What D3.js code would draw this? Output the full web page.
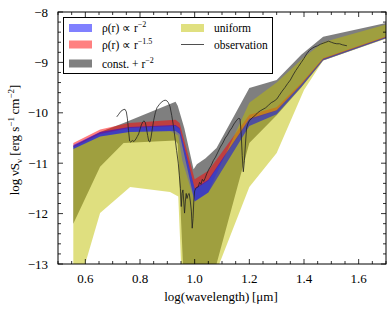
<!DOCTYPE html>
<html>
<head>
<meta charset="utf-8">
<script src="https://cdnjs.cloudflare.com/ajax/libs/d3/7.8.5/d3.min.js"></script>
<style>
  body { margin: 0; background: #fff; }
  svg text { font-family: "Liberation Serif", "Times New Roman", Times, serif; }
</style>
</head>
<body>
<svg id="chart" width="391" height="310"></svg>
<script>
var width = 391,
    height = 310;

var margin = {top: 12, right: 5, bottom: 46, left: 58};

// model bands: x, lower and upper bound of log nuS_nu
var constX  = [0.556, 0.654, 0.74, 0.93, 0.938, 0.962, 0.996, 1.008, 1.04, 1.08, 1.2, 1.3, 1.39, 1.47, 1.7];
var constHi = [-10.66, -10.38, -10.2, -9.78, -9.86, -10.3, -11.12, -11.02, -10.9, -10.7, -9.51, -9.35, -8.85, -8.49, -8.22];
var constLo = [-12.2, -11.07, -10.6, -10.55, -10.62, -13.6, -13.6, -13.6, -13.6, -13.0, -10.6, -10.05, -9.5, -8.96, -8.52];

var unifX  = [0.556, 0.654, 0.764, 0.91, 0.94, 0.955, 1.0, 1.05, 1.06, 1.09, 1.2, 1.3, 1.4, 1.47, 1.7];
var unifHi = [-10.72, -10.47, -10.38, -10.36, -10.45, -10.95, -11.76, -11.58, -11.45, -11.1, -9.8, -9.4, -8.9, -8.6, -8.25];
var unifLo = [-13.8, -11.99, -11.47, -11.57, -11.66, -13.6, -13.6, -13.6, -13.6, -13.0, -11.47, -10.8, -9.55, -8.96, -8.53];

var powX   = [0.556, 0.654, 0.76, 0.93, 0.945, 1.0, 1.05, 1.2, 1.3, 1.39, 1.47, 1.7];
var r15Hi  = [-10.60, -10.33, -10.20, -10.14, -10.20, -11.32, -11.15, -10.04, -9.89, -9.41, -8.915, -8.48];
var r15Lo  = [-10.68, -10.42, -10.30, -10.26, -10.32, -11.52, -11.35, -10.15, -9.96, -9.45, -8.94, -8.505];
var r2Hi   = [-10.64, -10.38, -10.28, -10.24, -10.30, -11.50, -11.33, -10.12, -9.95, -9.44, -8.93, -8.495];
var r2Lo   = [-10.72, -10.47, -10.38, -10.36, -10.42, -11.76, -11.58, -10.26, -10.03, -9.49, -8.955, -8.52];

// observed spectrum
var obsX = [0.715, 0.722, 0.73, 0.738, 0.745, 0.75, 0.754, 0.758, 0.762, 0.766, 0.772, 0.778, 0.785, 0.79, 0.795,
            0.8, 0.805, 0.81, 0.815, 0.82, 0.824, 0.828, 0.832, 0.836, 0.84, 0.845, 0.85, 0.856, 0.862, 0.87,
            0.878, 0.886, 0.892, 0.898, 0.904, 0.91, 0.916, 0.922, 0.928, 0.934, 0.94, 0.944, 0.948, 0.951, 0.954,
            0.957, 0.96, 0.963, 0.966, 0.969, 0.972, 0.976, 0.98, 0.984, 0.988, 0.991, 0.994, 0.997, 1.0, 1.004,
            1.008, 1.013, 1.018, 1.023, 1.028, 1.033, 1.038, 1.045, 1.052, 1.06, 1.068, 1.076, 1.085, 1.094, 1.103,
            1.112, 1.12, 1.128, 1.136, 1.144, 1.152, 1.16, 1.166, 1.17, 1.174, 1.178, 1.182, 1.186, 1.19, 1.196,
            1.2, 1.21, 1.22, 1.23, 1.24, 1.25, 1.26, 1.27, 1.28, 1.29, 1.3, 1.31, 1.32, 1.33, 1.34,
            1.35, 1.36, 1.37, 1.38, 1.39, 1.4, 1.41, 1.42, 1.43, 1.44, 1.45, 1.46, 1.47, 1.48, 1.49,
            1.5, 1.51, 1.52, 1.53, 1.54, 1.557];
var obsY = [-10.08, -10.03, -9.97, -9.94, -9.93, -9.98, -10.12, -10.35, -10.56, -10.58, -10.55, -10.57, -10.52, -10.47, -10.42,
            -10.33, -10.24, -10.18, -10.16, -10.2, -10.32, -10.45, -10.56, -10.58, -10.5, -10.32, -10.15, -10.0, -9.9, -9.84,
            -9.79, -9.76, -9.75, -9.76, -9.8, -9.88, -10.05, -10.25, -10.5, -10.75, -11.0, -11.25, -11.5, -11.86, -11.6,
            -11.53, -11.75, -11.99, -11.75, -11.6, -11.7, -11.62, -11.6, -11.75, -11.95, -12.29, -12.1, -11.73, -11.55, -11.5,
            -11.48, -11.47, -11.38, -11.42, -11.32, -11.36, -11.3, -11.2, -11.12, -11.05, -10.95, -10.88, -10.78, -10.68, -10.6,
            -10.5, -10.44, -10.36, -10.3, -10.22, -10.16, -10.11, -10.12, -10.4, -10.85, -11.17, -10.95, -10.6, -10.3, -10.2,
            -10.16, -10.1, -10.06, -10.0, -9.96, -9.93, -9.9, -9.85, -9.8, -9.77, -9.73, -9.65, -9.57, -9.5, -9.42,
            -9.35, -9.25, -9.16, -9.08, -9.0, -8.92, -8.83, -8.76, -8.72, -8.69, -8.67, -8.64, -8.62, -8.6, -8.58,
            -8.6, -8.62, -8.63, -8.63, -8.65, -8.67];

var xTicks = [0.6, 0.8, 1.0, 1.2, 1.4, 1.6];
var yTicks = [-8, -9, -10, -11, -12, -13];

var svg = d3.select("#chart");

var x = d3.scaleLinear()
    .domain([0.5, 1.7])
    .range([margin.left, width - margin.right]);

var y = d3.scaleLinear()
    .domain([-13, -8])
    .range([height - margin.bottom, margin.top]);

svg.append("defs").append("clipPath")
    .attr("id", "plotclip")
  .append("rect")
    .attr("x", x(0.5))
    .attr("y", y(-8))
    .attr("width", x(1.7) - x(0.5))
    .attr("height", y(-13) - y(-8));

var plot = svg.append("g").attr("clip-path", "url(#plotclip)");

function band(xs, lo, hi) {
  var pts = xs.map(function(d, i) { return [d, lo[i], hi[i]]; });
  return d3.area()
    .x(function(d) { return x(d[0]); })
    .y0(function(d) { return y(d[1]); })
    .y1(function(d) { return y(d[2]); })(pts);
}

// drawing order: const + r^-2, r^-1.5, uniform, r^-2
plot.append("path").attr("d", band(constX, constLo, constHi)).attr("fill", "rgba(0,0,0,0.5)");
plot.append("path").attr("d", band(powX, r15Lo, r15Hi)).attr("fill", "rgba(255,0,0,0.5)");
plot.append("path").attr("d", band(unifX, unifLo, unifHi)).attr("fill", "rgba(192,192,0,0.5)");
plot.append("path").attr("d", band(powX, r2Lo, r2Hi)).attr("fill", "rgba(0,0,255,0.5)");

var obsLine = d3.line()
    .x(function(d) { return x(d[0]); })
    .y(function(d) { return y(d[1]); });

plot.append("path")
    .attr("d", obsLine(obsX.map(function(d, i) { return [d, obsY[i]]; })))
    .attr("fill", "none")
    .attr("stroke", "#222")
    .attr("stroke-width", 0.8);

// frame and inward ticks on all sides
var x0 = x(0.5), x1 = x(1.7), y0 = y(-13), y1 = y(-8);
var ticks = svg.append("g").attr("stroke", "#000").attr("stroke-width", 0.8);

d3.range(0.5, 1.7001, 0.05).forEach(function(v) {
  var major = Math.abs(v * 10 - Math.round(v * 10)) < 1e-6 && Math.round(v * 10) % 2 === 0;
  var len = major ? 5 : 3;
  ticks.append("line").attr("x1", x(v)).attr("x2", x(v)).attr("y1", y0).attr("y2", y0 - len);
  ticks.append("line").attr("x1", x(v)).attr("x2", x(v)).attr("y1", y1).attr("y2", y1 + len);
});
d3.range(-13, -7.999, 0.2).forEach(function(v) {
  var major = Math.abs(v - Math.round(v)) < 1e-6;
  var len = major ? 5 : 3;
  ticks.append("line").attr("y1", y(v)).attr("y2", y(v)).attr("x1", x0).attr("x2", x0 + len);
  ticks.append("line").attr("y1", y(v)).attr("y2", y(v)).attr("x1", x1).attr("x2", x1 - len);
});

svg.append("rect")
    .attr("x", x0).attr("y", y1)
    .attr("width", x1 - x0).attr("height", y0 - y1)
    .attr("fill", "none").attr("stroke", "#000").attr("stroke-width", 1);

svg.append("g").selectAll("text")
    .data(xTicks)
  .enter().append("text")
    .attr("x", function(d) { return x(d); })
    .attr("y", 283)
    .attr("text-anchor", "middle")
    .attr("font-size", 13)
    .text(function(d) { return d.toFixed(1); });

svg.append("g").selectAll("text")
    .data(yTicks)
  .enter().append("text")
    .attr("x", 48)
    .attr("y", function(d) { return y(d) + 4.5; })
    .attr("text-anchor", "end")
    .attr("font-size", 13)
    .text(function(d) { return "\u2212" + Math.abs(d); });

// axis titles
svg.append("text")
    .attr("x", 221).attr("y", 301)
    .attr("text-anchor", "middle")
    .attr("font-size", 13)
    .text("log(wavelength)\u2009[\u03bcm]");

var yt = svg.append("text")
    .attr("transform", "translate(19," + 140 + ") rotate(-90)")
    .attr("text-anchor", "middle")
    .attr("font-size", 13);
yt.append("tspan").text("log\u2009\u03bdS");
yt.append("tspan").attr("font-size", 9).attr("dy", 3).text("\u03bd");
yt.append("tspan").attr("dy", -3).text(" [erg s");
yt.append("tspan").attr("font-size", 9).attr("dy", -5).text("\u22121");
yt.append("tspan").attr("dy", 5).text("\u2009cm");
yt.append("tspan").attr("font-size", 9).attr("dy", -5).text("\u22122");
yt.append("tspan").attr("dy", 5).text("]");

// legend
var legend = svg.append("g");
legend.append("rect")
    .attr("x", 63.5).attr("y", 17.5)
    .attr("width", 209).attr("height", 56)
    .attr("fill", "#fff").attr("stroke", "#000").attr("stroke-width", 1);

var legendItems = [
  {col: 0, row: 0, fill: "rgb(128,128,255)", parts: [["\u03c1(r) \u221d r", 0], ["\u22122", 1]]},
  {col: 0, row: 1, fill: "rgb(255,128,128)", parts: [["\u03c1(r) \u221d r", 0], ["\u22121.5", 1]]},
  {col: 0, row: 2, fill: "rgb(128,128,128)", parts: [["const. + r", 0], ["\u22122", 1]]},
  {col: 1, row: 0, fill: "rgb(224,224,128)", parts: [["uniform", 0]]},
  {col: 1, row: 1, fill: null, parts: [["observation", 0]]}
];
var colX = [69, 181], rowY = [28, 44.5, 63.5];

legendItems.forEach(function(d) {
  var sx = colX[d.col], sy = rowY[d.row];
  if (d.fill) {
    legend.append("rect")
      .attr("x", sx).attr("y", sy - 4)
      .attr("width", 23).attr("height", 8)
      .attr("fill", d.fill);
  } else {
    legend.append("line")
      .attr("x1", sx).attr("x2", sx + 23)
      .attr("y1", sy).attr("y2", sy)
      .attr("stroke", "#222").attr("stroke-width", 0.8);
  }
  var t = legend.append("text")
      .attr("x", sx + 33).attr("y", sy + 4)
      .attr("font-size", 11.5);
  d.parts.forEach(function(p) {
    if (p[1]) t.append("tspan").attr("font-size", 8).attr("dy", -5).text(p[0]);
    else t.append("tspan").text(p[0]);
  });
});
</script>
</body>
</html>
